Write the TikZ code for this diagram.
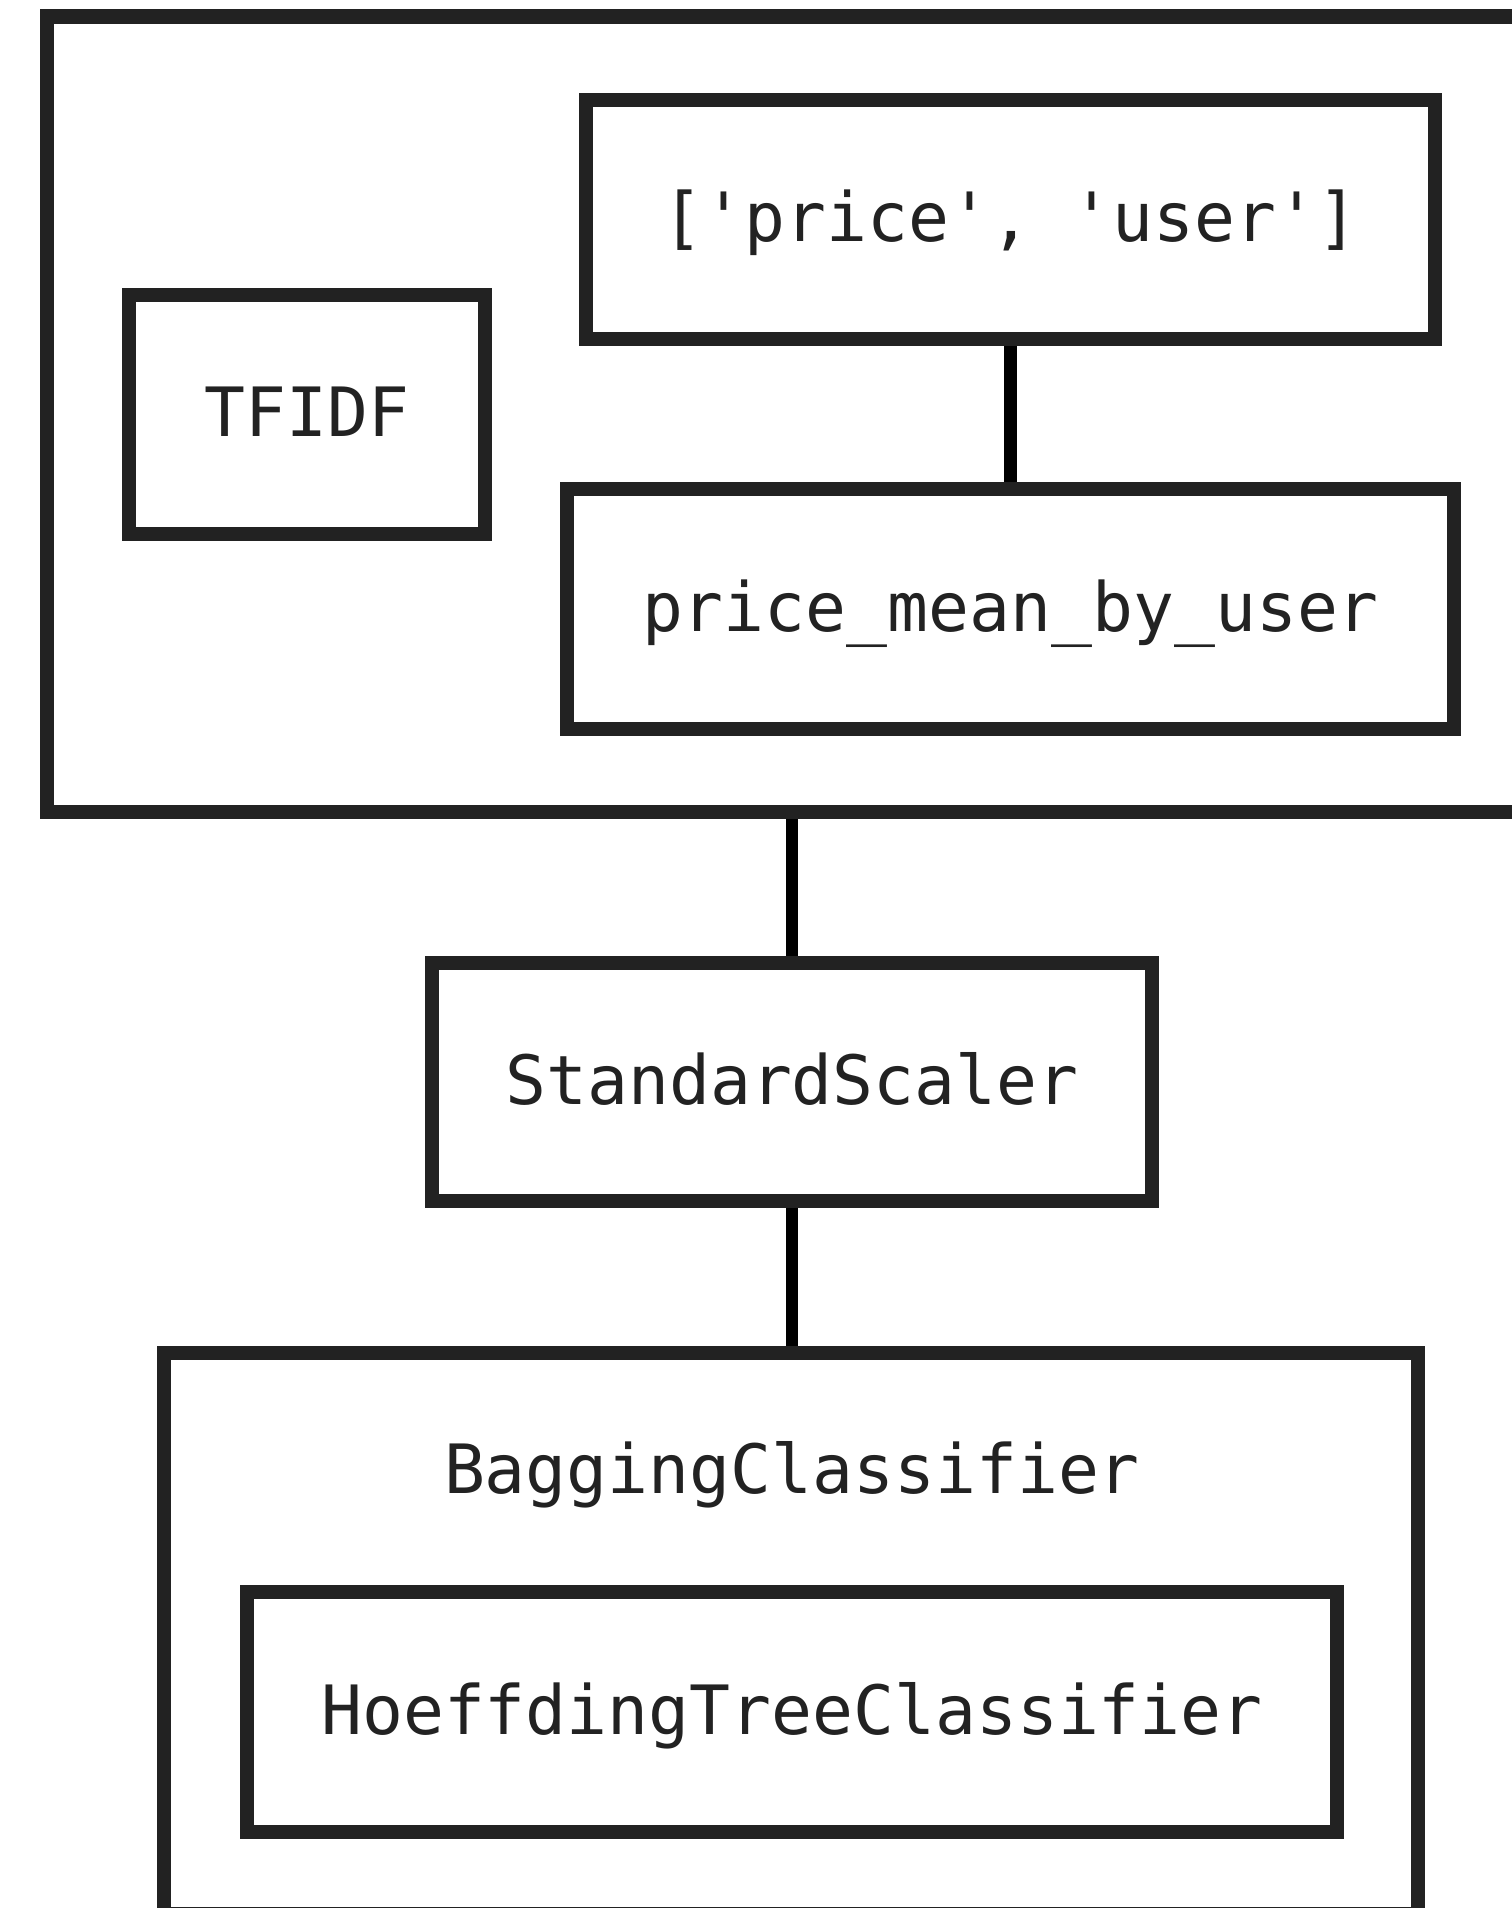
\documentclass[tikz,border=0pt]{standalone}
\usepackage{fontspec}
\setmonofont{DejaVu Sans Mono}
\usetikzlibrary{positioning}
\definecolor{ink}{HTML}{222222}
\tikzset{every node/.style={font=\ttfamily\fontsize{20.4}{24}\selectfont, text=ink, inner sep=0pt},
         box/.style={draw=ink, line width=4.35pt, text height=13.4pt, text depth=0pt},
         link/.style={black, line width=3.75pt}}

\begin{document}
\begin{tikzpicture}[x=0.3pt,y=-0.3pt]
  \clip (0,0) rectangle (1512,1908);
  % union of the two branches
  \node[box, minimum width=1513*0.3pt, minimum height=795.5*0.3pt] (union) at (803.5,414.25) {};
  \node[box, minimum width=356*0.3pt, minimum height=239*0.3pt] (tfidf) at (307,414.5) {TFIDF};
  \node[box, minimum width=849*0.3pt, minimum height=239*0.3pt] (cols) at (1010.5,219.5) {['price', 'user']};
  \node[box, minimum width=887*0.3pt, minimum height=240*0.3pt] (mean) at (1010.5,609) {price\_mean\_by\_user};
  \draw[link] (cols.south) -- (mean.north);
  % scaler and model
  \node[box, minimum width=720*0.3pt, minimum height=238*0.3pt] (scaler) at (792,1082) {StandardScaler};
  \node[box, minimum width=1254*0.3pt, minimum height=561*0.3pt] (bagging) at (791,1633.5) {};
  \node[anchor=base] (bagname) at (792,1493) {BaggingClassifier};
  \node[box, minimum width=1090*0.3pt, minimum height=240*0.3pt] (tree) at (792,1712) {HoeffdingTreeClassifier};
  \draw[link] (scaler.north |- union.south) -- (scaler.north);
  \draw[link] (scaler.south) -- (scaler.south |- bagging.north);
\end{tikzpicture}
\end{document}
